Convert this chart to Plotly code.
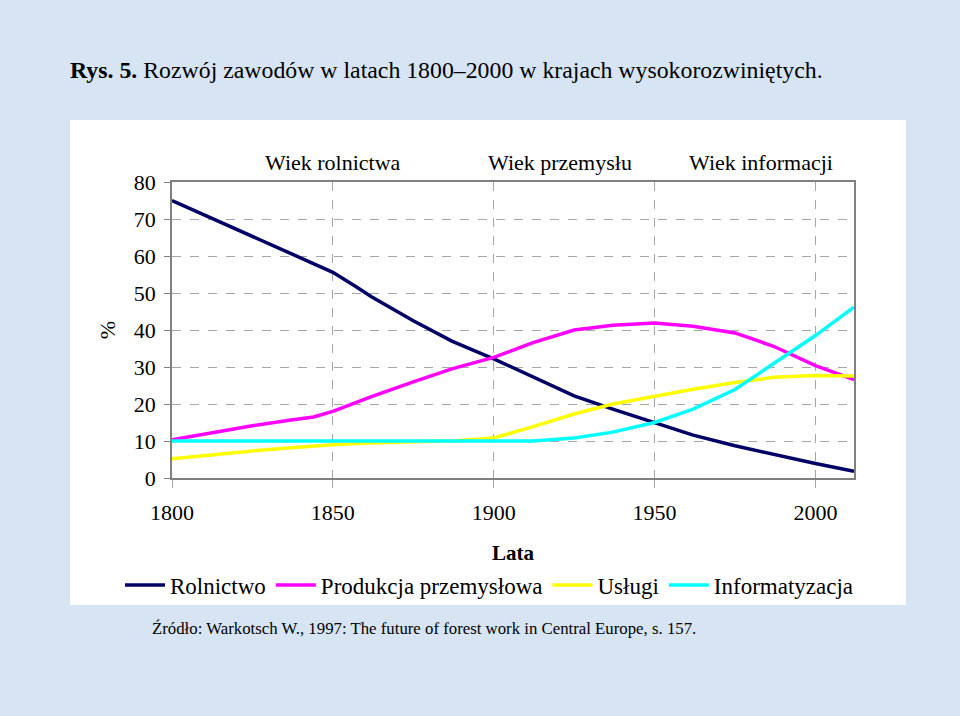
import plotly.graph_objects as go

years = [1800, 1812, 1825, 1837, 1844, 1850, 1857, 1862, 1875, 1887,
         1900, 1912, 1925, 1937, 1950, 1962, 1975, 1987, 2000, 2012]

rolnictwo = [75.0, 70.3, 65.2, 60.5, 57.8, 55.6, 51.8, 49.0, 42.5, 37.0,
             32.2, 27.3, 22.2, 18.6, 14.9, 11.6, 8.7, 6.3, 3.9, 1.8]
produkcja = [10.3, 12.2, 14.1, 15.7, 16.5, 18.0, 20.3, 22.0, 26.0, 29.5,
             32.6, 36.5, 40.0, 41.3, 41.9, 41.0, 39.2, 35.6, 30.4, 26.6]
uslugi = [5.2, 6.3, 7.3, 8.2, 8.7, 9.0, 9.3, 9.5, 9.8, 10.0,
          10.8, 13.8, 17.3, 20.0, 22.1, 24.0, 25.8, 27.2, 27.7, 27.6]
informatyzacja = [10.0, 10.0, 10.0, 10.0, 10.0, 10.0, 10.0, 10.0, 10.0, 10.0,
                  10.0, 10.0, 10.8, 12.4, 15.0, 18.6, 23.9, 31.0, 38.5, 46.2]

series_names = ["Rolnictwo", "Produkcja przemysłowa", "Usługi", "Informatyzacja"]
series_values = [rolnictwo, produkcja, uslugi, informatyzacja]
series_colors = ["#000066", "#ff00ff", "#ffff00", "#00ffff"]

x_ticks = [1800, 1850, 1900, 1950, 2000]
y_ticks = [0, 10, 20, 30, 40, 50, 60, 70, 80]

era_labels = ["Wiek rolnictwa", "Wiek przemysłu", "Wiek informacji"]
era_positions = [1850, 1920.5, 1983]

title_text = "<b>Rys. 5.</b> Rozwój zawodów w latach 1800–2000 w krajach wysokorozwiniętych."
source_text = "Źródło: Warkotsch W., 1997: The future of forest work in Central Europe, s. 157."

FONT = "Liberation Serif, Times New Roman, serif"

fig = go.Figure()
for name, vals, col in zip(series_names, series_values, series_colors):
    fig.add_trace(go.Scatter(x=years, y=vals, mode="lines", name=name,
                             line=dict(color=col, width=3.5)))

L, R, T, B = 172, 106, 182, 238
W, H = 960, 716
pw, ph = W - L - R, H - T - B

def px_x(p):
    return (p - L) / pw

def px_y(p):
    return (H - B - p) / ph

fig.add_shape(type="rect", xref="paper", yref="paper",
              x0=px_x(70), x1=px_x(906), y0=px_y(605), y1=px_y(120),
              fillcolor="white", line=dict(width=0), layer="below")

for lab, xp in zip(era_labels, era_positions):
    fig.add_annotation(x=xp, xref="x", y=px_y(163), yref="paper", text=lab,
                       showarrow=False, font=dict(family=FONT, size=22, color="black"),
                       xanchor="center", yanchor="middle")

fig.add_annotation(x=px_x(150), xref="paper", y=px_y(628), yref="paper",
                   text=source_text, showarrow=False, xanchor="left", yanchor="middle",
                   font=dict(family=FONT, size=16.8, color="black"))

fig.update_layout(
    width=W, height=H,
    margin=dict(l=L, r=R, t=T, b=B),
    paper_bgcolor="#d7e4f3",
    plot_bgcolor="white",
    font=dict(family=FONT, size=22, color="black"),
    title=dict(text=title_text, x=70 / W, xanchor="left", xref="container",
               y=1 - 70 / H, yanchor="middle", font=dict(family=FONT, size=23.8, color="black")),
    showlegend=True,
    legend=dict(orientation="h", x=px_x(120), xanchor="left", y=px_y(585), yanchor="middle",
                bgcolor="rgba(0,0,0,0)", font=dict(family=FONT, size=23, color="black"),
                itemwidth=40),
    xaxis=dict(range=[1800, 2012], tickvals=x_ticks, ticktext=[str(v) for v in x_ticks],
               showgrid=True, gridcolor="#a6a6a6", griddash="dash", gridwidth=1,
               showline=True, linecolor="#808080", linewidth=1.5, mirror=True,
               ticks="outside", ticklen=8, tickcolor="#a6a6a6", ticklabelstandoff=6,
               zeroline=False,
               title=dict(text="<b>Lata</b>", font=dict(family=FONT, size=21), standoff=21)),
    yaxis=dict(range=[0, 80], tickvals=y_ticks,
               showgrid=True, gridcolor="#a6a6a6", griddash="dash", gridwidth=1,
               showline=True, linecolor="#808080", linewidth=1.5, mirror=True,
               ticks="outside", ticklen=6, tickcolor="#808080", ticklabelstandoff=4,
               zeroline=False,
               title=dict(text="%", font=dict(family=FONT, size=22), standoff=12)),
)

fig.write_html("out.html", config={"displayModeBar": False},
               post_script="document.body.style.margin='0';")
